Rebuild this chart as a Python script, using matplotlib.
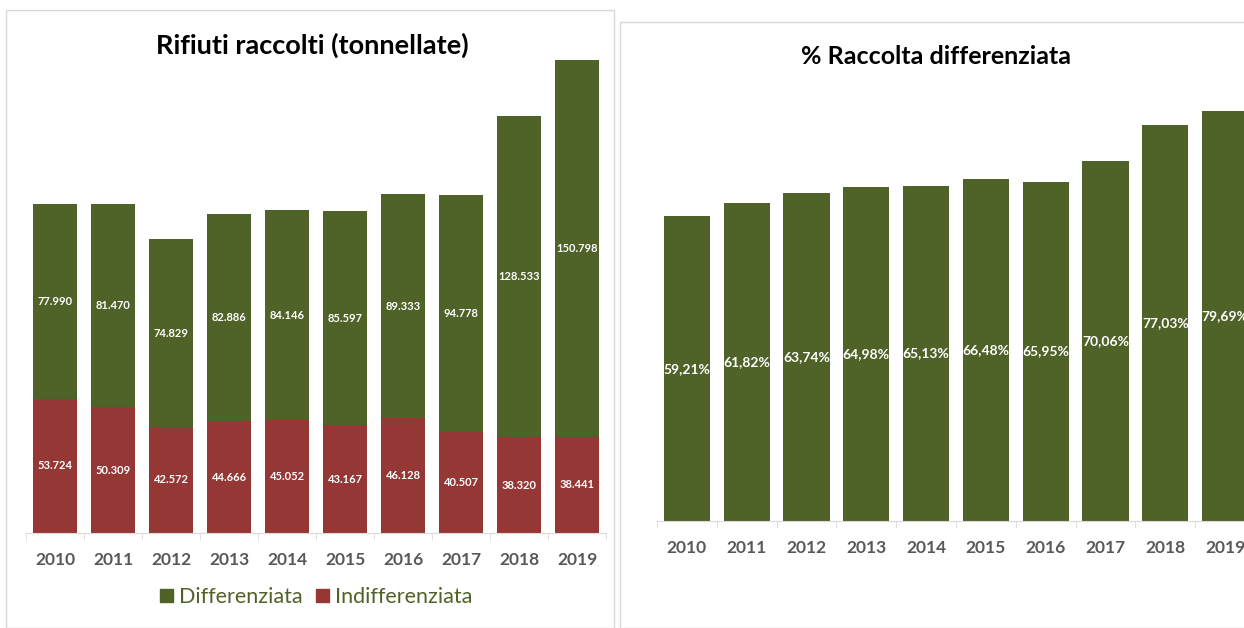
import matplotlib.pyplot as plt
from matplotlib.patches import Rectangle, Patch

# Dati
anni = ["2010", "2011", "2012", "2013", "2014", "2015", "2016", "2017", "2018", "2019"]
differenziata = [77990, 81470, 74829, 82886, 84146, 85597, 89333, 94778, 128533, 150798]
indifferenziata = [53724, 50309, 42572, 44666, 45052, 43167, 46128, 40507, 38320, 38441]
perc_differenziata = [59.21, 61.82, 63.74, 64.98, 65.13, 66.48, 65.95, 70.06, 77.03, 79.69]

verde = "#4F6228"
rosso = "#953735"
grigio = "#595959"
bordo = "#D9D9D9"

plt.rcParams['font.family'] = ['Lato', 'DejaVu Sans']

W, H = 1244, 628
fig = plt.figure(figsize=(W / 100, H / 100), dpi=100)


def px_box(x0, y_base, width, height):
    # converte pixel (origine in alto a sinistra) in coordinate figura
    return [x0 / W, (H - y_base) / H, width / W, height / H]


def fmt_it(v):
    return f"{v:,}".replace(",", ".")


# cornici dei due pannelli
fig.patches.append(Rectangle((6 / W, 0), 608 / W, (H - 10) / H, transform=fig.transFigure,
                             fill=False, edgecolor=bordo, lw=1))
fig.patches.append(Rectangle((620 / W, 0), 640 / W, (H - 22) / H, transform=fig.transFigure,
                             fill=False, edgecolor=bordo, lw=1))

x = list(range(len(anni)))


def stile_asse(ax):
    for s in ["top", "right", "left"]:
        ax.spines[s].set_visible(False)
    ax.spines["bottom"].set_color(bordo)
    ax.set_yticks([])
    ax.set_xlim(-0.5, len(anni) - 0.5)
    ax.set_xticks(x)
    ax.set_xticklabels(anni, fontsize=12.5, fontweight="bold", color=grigio)
    ax.tick_params(axis="x", which="major", length=0, pad=14)
    ax.set_xticks([i - 0.5 for i in range(len(anni) + 1)], minor=True)
    ax.tick_params(axis="x", which="minor", length=5, color=bordo)
    ax.patch.set_alpha(0)


# ===== Grafico sinistro: rifiuti raccolti =====
ax1 = fig.add_axes(px_box(26, 533, 580, 500))
ax1.bar(x, indifferenziata, width=0.76, color=rosso)
ax1.bar(x, differenziata, width=0.76, bottom=indifferenziata, color=verde)
ax1.set_ylim(0, 200000)
stile_asse(ax1)

for i in x:
    ax1.text(i, indifferenziata[i] / 2, fmt_it(indifferenziata[i]), ha="center", va="center",
             color="white", fontsize=8, fontweight="bold")
    ax1.text(i, indifferenziata[i] + differenziata[i] / 2, fmt_it(differenziata[i]), ha="center",
             va="center", color="white", fontsize=8, fontweight="bold")

fig.text(312 / W, 1 - 45 / H, "Rifiuti raccolti (tonnellate)", ha="center", va="center",
         fontsize=19.5, fontweight="bold", color="black")

leg = fig.legend(handles=[Patch(color=verde, label="Differenziata"),
                          Patch(color=rosso, label="Indifferenziata")],
                 loc="center", bbox_to_anchor=(316 / W, 1 - 597 / H), ncol=2, frameon=False,
                 fontsize=15.5, handlelength=0.6, handleheight=0.6, handletextpad=0.3,
                 columnspacing=0.6)
for t in leg.get_texts():
    t.set_color(verde)

# ===== Grafico destro: % raccolta differenziata =====
ax2 = fig.add_axes(px_box(657, 521, 598, 463))
ax2.bar(x, perc_differenziata, width=0.77, color=verde)
ax2.set_ylim(0, 90)
stile_asse(ax2)

for i in x:
    ax2.text(i, perc_differenziata[i] / 2, f"{perc_differenziata[i]:.2f}%".replace(".", ","),
             ha="center", va="center", color="white", fontsize=10, fontweight="bold")

fig.text(936 / W, 1 - 57 / H, "% Raccolta differenziata", ha="center", va="center",
         fontsize=18, fontweight="bold", color="black")

fig.savefig("out.png", dpi=100)
